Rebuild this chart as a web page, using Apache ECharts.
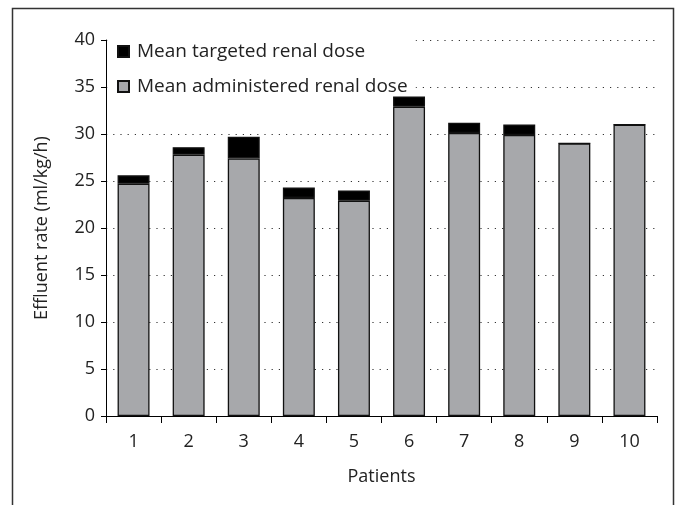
<!DOCTYPE html>
<html>
<head>
<meta charset="utf-8">
<script src="https://cdn.jsdelivr.net/npm/echarts@6/dist/echarts.min.js"></script>
<style>
html, body { margin: 0; padding: 0; background: #fff; }
#main { width: 681px; height: 505px; }
</style>
</head>
<body>
<div id="main"></div>
<script>
var patients = ['1', '2', '3', '4', '5', '6', '7', '8', '9', '10'];
// mean targeted renal dose (top of each stack)
var targeted = [25.6, 28.6, 29.7, 24.3, 24.0, 34.0, 31.2, 31.0, 29.0, 31.0];
// mean administered renal dose (grey part)
var administered = [24.7, 27.8, 27.4, 23.2, 22.9, 32.9, 30.1, 29.9, 29.0, 31.0];

var gap = [];
for (var i = 0; i < targeted.length; i++) {
    gap.push(Math.max(0, +(targeted[i] - administered[i]).toFixed(2)));
}

var chart = echarts.init(document.getElementById('main'));
var font = '"Open Sans", "Noto Sans", sans-serif';

var option = {
    animation: false,
    backgroundColor: '#fff',
    textStyle: { fontFamily: font },
    graphic: [{
        type: 'rect',
        shape: { x: 12.5, y: 8.5, width: 661, height: 520 },
        style: { fill: 'none', stroke: '#333', lineWidth: 1.5 },
        z: -1
    }],
    legend: {
        orient: 'vertical',
        left: 113,
        top: 38,
        icon: 'rect',
        itemWidth: 11,
        itemHeight: 11,
        itemGap: 16,
        padding: [4, 8, 4, 4],
        backgroundColor: '#fff',
        data: ['Mean targeted renal dose', 'Mean administered renal dose'],
        textStyle: { fontFamily: font, fontSize: 19, color: '#222', padding: [0, 0, 0, 3] },
        z: 1
    },
    grid: {
        left: 106,
        right: 24,
        top: 40,
        bottom: 89
    },
    xAxis: {
        type: 'category',
        data: patients,
        name: 'Patients',
        nameLocation: 'middle',
        nameGap: 52,
        nameTextStyle: { fontFamily: font, fontSize: 18, color: '#222' },
        axisLine: { lineStyle: { color: '#000', width: 1 } },
        axisTick: { show: true, length: 7, lineStyle: { color: '#000' } },
        axisLabel: { fontFamily: font, fontSize: 18, color: '#222', margin: 17 },
        splitLine: { show: false }
    },
    yAxis: {
        type: 'value',
        min: 0,
        max: 40,
        interval: 5,
        name: 'Effluent rate (ml/kg/h)',
        nameLocation: 'middle',
        nameGap: 55,
        nameTextStyle: { fontFamily: font, fontSize: 18, color: '#222' },
        axisLine: { show: true, lineStyle: { color: '#000', width: 1 } },
        axisTick: { show: true, length: 5, lineStyle: { color: '#000' } },
        axisLabel: { fontFamily: font, fontSize: 18, color: '#222', margin: 11 },
        splitLine: { show: true, lineStyle: { color: '#333', width: 1.2, type: [1.2, 6] } }
    },
    series: [
        {
            name: 'Mean administered renal dose',
            type: 'bar',
            stack: 'dose',
            barCategoryGap: '42%',
            data: administered,
            itemStyle: { color: '#a7a8ab', borderColor: '#111', borderWidth: 1.3 }
        },
        {
            name: 'Mean targeted renal dose',
            type: 'bar',
            stack: 'dose',
            data: gap,
            itemStyle: { color: '#000', borderColor: '#111', borderWidth: 1.3 }
        }
    ]
};
chart.setOption(option);
</script>
</body>
</html>
